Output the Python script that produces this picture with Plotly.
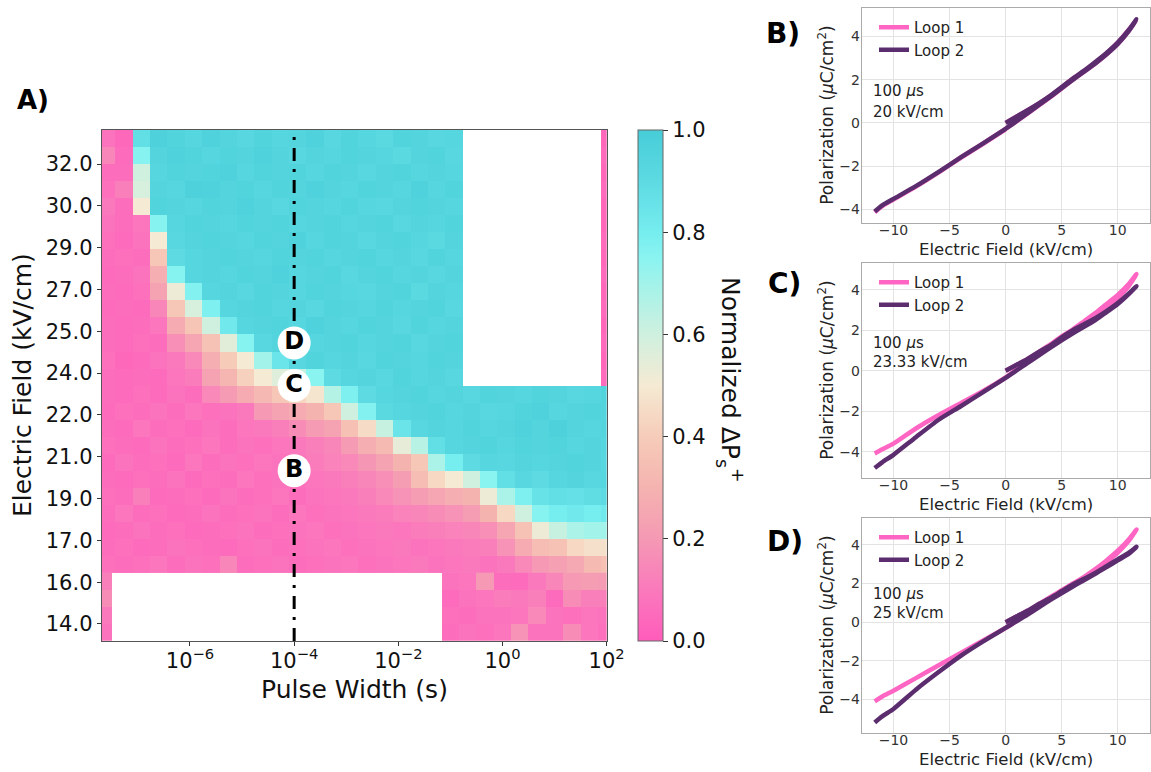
import plotly.graph_objects as go

N = None
W, H = 1151, 772

# ---------------- heatmap data (A) ----------------
pulse_log10_hi = [-7.6, -7.267, -6.933, -6.6, -6.267, -5.933, -5.6, -5.267, -4.933, -4.6,
                  -4.267, -3.933, -3.6, -3.267, -2.933, -2.6, -2.267, -1.933, -1.6, -1.267,
                  -0.933, -0.6, -0.267, 0.067, 0.4, 0.733, 1.067, 1.4, 1.733, 2.067]
pulse_log10_lo = [-7.67, -7.337, -7.003, -6.67, -6.337, -6.003, -5.67, -5.337, -5.003, -4.67,
                  -4.337, -4.003, -3.67, -3.337, -3.003, -2.67, -2.337, -2.003, -1.67, -1.337,
                  -1.003, -0.67, -0.337, -0.003, 0.33, 0.663, 0.997, 1.33, 1.663, 1.997]
field_rows = [33.0, 32.33, 31.67, 31.0, 30.33, 29.67, 29.0, 28.33, 27.67, 27.0,
              26.33, 25.67, 25.0, 24.33, 23.67, 23.0, 22.33, 21.67, 21.0, 20.33,
              19.67, 19.0, 18.33, 17.67, 17.0, 16.33, 15.67, 15.0, 14.33, 13.67]
field_ticks = [14.0, 15.636, 17.273, 18.909, 20.545, 22.182, 23.818, 25.455, 27.091, 28.727, 30.364, 32.0]
field_tick_labels = ["14.0", "16.0", "17.0", "19.0", "21.0", "22.0", "24.0", "25.0", "27.0", "29.0", "30.0", "32.0"]
pulse_ticks = [-6, -4, -2, 0, 2]
pulse_tick_labels = ["10<sup>\u22126</sup>", "10<sup>\u22124</sup>", "10<sup>\u22122</sup>", "10<sup>0</sup>", "10<sup>2</sup>"]

dps_upper = [
    [8, 4, 88, 97, 95, 93, 96, 94, 92, 95, 93, 94, 96, 92, 95, 93, 91, 95, 94, 92, 93, N, N, N, N, N, N, N, N, 4],
    [14, 5, 76, 94, 96, 95, 93, 95, 94, 96, 94, 92, 94, 93, 95, 94, 93, 91, 94, 95, 92, N, N, N, N, N, N, N, N, 5],
    [6, 6, 60, 93, 95, 94, 95, 96, 93, 95, 94, 95, 93, 95, 94, 92, 94, 95, 93, 94, 93, N, N, N, N, N, N, N, N, 4],
    [7, 12, 58, 94, 93, 97, 96, 94, 95, 93, 95, 94, 96, 94, 93, 95, 94, 93, 96, 93, 95, N, N, N, N, N, N, N, N, 5],
    [10, 6, 50, 95, 94, 93, 95, 94, 96, 94, 92, 95, 94, 93, 95, 93, 92, 94, 95, 94, 93, N, N, N, N, N, N, N, N, 4],
    [8, 6, 9, 76, 93, 95, 94, 93, 95, 94, 95, 93, 94, 95, 93, 94, 95, 92, 94, 93, 95, N, N, N, N, N, N, N, N, 4],
    [7, 5, 8, 50, 92, 94, 95, 94, 93, 95, 94, 96, 93, 95, 94, 92, 94, 95, 93, 91, 94, N, N, N, N, N, N, N, N, 5],
    [6, 7, 6, 38, 90, 93, 94, 95, 94, 93, 95, 94, 95, 93, 94, 95, 93, 94, 92, 95, 93, N, N, N, N, N, N, N, N, 4],
    [5, 6, 8, 28, 76, 93, 94, 93, 95, 94, 96, 93, 94, 95, 92, 94, 95, 93, 94, 92, 94, N, N, N, N, N, N, N, N, 5],
    [6, 5, 7, 24, 52, 77, 93, 94, 92, 95, 94, 93, 95, 94, 93, 92, 94, 95, 91, 94, 93, N, N, N, N, N, N, N, N, 4],
    [5, 6, 5, 14, 38, 58, 78, 93, 94, 95, 93, 94, 92, 95, 94, 93, 95, 93, 94, 95, 92, N, N, N, N, N, N, N, N, 5],
    [6, 5, 6, 9, 27, 37, 60, 82, 93, 94, 95, 93, 96, 94, 93, 95, 94, 92, 95, 93, 94, N, N, N, N, N, N, N, N, 4],
    [6, 5, 7, 6, 17, 25, 36, 55, 76, 92, 94, 95, 93, 94, 95, 93, 94, 95, 92, 94, 95, N, N, N, N, N, N, N, N, 5],
    [7, 4, 5, 8, 10, 15, 28, 40, 50, 70, 84, 92, 95, 93, 94, 92, 95, 94, 93, 95, 94, N, N, N, N, N, N, N, N, 4],
    [6, 5, 6, 5, 9, 11, 24, 31, 42, 50, 56, 63, 75, 90, 93, 94, 92, 95, 93, 94, 92, N, N, N, N, N, N, N, N, 5],
    [6, 5, 7, 5, 8, 6, 15, 21, 27, 32, 38, 43, 48, 66, 78, 90, 93, 94, 95, 93, 94, 92, 95, 94, 93, 95, 94, 92, 93, 95],
    [5, 7, 6, 8, 6, 9, 7, 8, 10, 20, 24, 27, 30, 38, 60, 77, 91, 93, 94, 95, 93, 94, 92, 93, 95, 96, 93, 94, 95, 94],
    [6, 5, 9, 6, 7, 5, 8, 6, 9, 10, 12, 16, 21, 24, 35, 45, 62, 85, 92, 94, 93, 95, 93, 94, 96, 94, 97, 94, 93, 94],
    [7, 6, 5, 8, 6, 7, 9, 6, 8, 7, 9, 10, 12, 14, 21, 28, 33, 54, 65, 88, 93, 94, 95, 93, 95, 94, 95, 93, 94, 93],
    [5, 8, 6, 7, 5, 9, 6, 8, 7, 9, 8, 10, 11, 13, 15, 19, 24, 30, 38, 68, 80, 90, 93, 92, 94, 93, 94, 95, 94, 92],
    [6, 5, 7, 6, 8, 5, 7, 6, 9, 7, 8, 7, 9, 10, 12, 14, 17, 22, 34, 44, 50, 60, 75, 88, 92, 90, 93, 94, 92, 93],
    [7, 6, 12, 5, 6, 7, 5, 8, 6, 7, 9, 6, 8, 9, 10, 12, 15, 18, 22, 25, 28, 30, 52, 68, 78, 86, 88, 87, 89, 90],
    [6, 9, 6, 7, 5, 6, 8, 6, 7, 8, 6, 9, 7, 8, 9, 10, 11, 13, 14, 16, 18, 22, 30, 44, 60, 76, 80, 82, 80, 82],
    [5, 6, 8, 6, 7, 5, 6, 7, 8, 6, 7, 8, 9, 7, 8, 9, 10, 9, 11, 12, 13, 14, 17, 25, 36, 52, 62, 68, 70, 70],
    [6, 7, 5, 6, 8, 7, 6, 5, 7, 8, 6, 7, 8, 9, 7, 8, 9, 10, 8, 9, 10, 11, 12, 18, 27, 34, 36, 44, 47, 47],
    [7, 6, 7, 9, 6, 8, 7, 14, 6, 7, 8, 6, 7, 8, 9, 7, 8, 9, 10, 8, 9, 10, 8, 10, 15, 20, 23, 26, 33, 35],
]
dps_lower = [
    [12, N, N, N, N, N, N, N, N, N, N, N, N, N, N, N, N, N, N, N, 8, 9, 20, 6, 5, 10, 14, 20, 22, 21],
    [16, N, N, N, N, N, N, N, N, N, N, N, N, N, N, N, N, N, N, N, 5, 8, 9, 11, 10, 12, 5, 16, 12, 12],
    [10, N, N, N, N, N, N, N, N, N, N, N, N, N, N, N, N, N, N, N, 7, 6, 8, 8, 9, 15, 8, 7, 9, 8],
    [8, N, N, N, N, N, N, N, N, N, N, N, N, N, N, N, N, N, N, N, 6, 8, 7, 9, 18, 8, 8, 16, 9, 7],
]
marker_fields = [20.0, 23.33, 25.0]
marker_labels = ["B", "C", "D"]
marker_pulse_log10 = -4

loop_E = [0, 1, 2, 3, 4, 5, 6, 7, 8, 9, 10, 11, 11.67,
          11, 10, 9, 8, 6, 4, 2, 0, -2, -4, -6, -8, -10, -11, -11.67,
          -11, -10, -8, -6, -4, -2, 0]
B_loop1 = [0, 0.3, 0.6, 0.9, 1.25, 1.65, 2.05, 2.4, 2.8, 3.22, 3.72, 4.33, 4.78,
           4.28, 3.66, 3.18, 2.75, 2.0, 1.2, 0.45, -0.28, -0.95, -1.6, -2.3, -2.95, -3.55, -3.85, -4.14,
           -3.85, -3.55, -2.95, -2.3, -1.62, -0.97, -0.3]
B_loop2 = [0, 0.3, 0.6, 0.92, 1.27, 1.66, 2.06, 2.42, 2.82, 3.24, 3.72, 4.32, 4.8,
           4.28, 3.66, 3.18, 2.76, 2.0, 1.22, 0.46, -0.27, -0.95, -1.6, -2.28, -2.93, -3.52, -3.82, -4.1,
           -3.82, -3.52, -2.93, -2.28, -1.6, -0.95, -0.28]
C_loop1 = [0, 0.3, 0.6, 0.95, 1.3, 1.7, 2.05, 2.45, 2.85, 3.3, 3.75, 4.3, 4.78,
           4.2, 3.6, 3.12, 2.7, 1.95, 1.2, 0.45, -0.32, -1.0, -1.6, -2.2, -2.85, -3.6, -3.88, -4.08,
           -3.88, -3.6, -2.85, -2.2, -1.62, -1.0, -0.35]
C_loop2 = [0, 0.3, 0.6, 0.95, 1.25, 1.65, 2.0, 2.3, 2.6, 2.95, 3.35, 3.82, 4.18,
           3.8, 3.3, 2.9, 2.5, 1.85, 1.15, 0.4, -0.35, -1.05, -1.75, -2.43, -3.28, -4.15, -4.52, -4.8,
           -4.52, -4.15, -3.28, -2.43, -1.75, -1.05, -0.35]
D_loop1 = [0, 0.3, 0.6, 0.95, 1.3, 1.65, 2.0, 2.35, 2.75, 3.2, 3.7, 4.3, 4.8,
           4.22, 3.6, 3.1, 2.65, 1.9, 1.2, 0.45, -0.3, -0.95, -1.6, -2.25, -2.9, -3.55, -3.85, -4.1,
           -3.85, -3.55, -2.9, -2.25, -1.6, -0.95, -0.3]
D_loop2 = [0, 0.3, 0.6, 0.95, 1.25, 1.6, 1.95, 2.25, 2.55, 2.9, 3.25, 3.6, 3.9,
           3.55, 3.2, 2.85, 2.5, 1.85, 1.15, 0.4, -0.3, -1.0, -1.75, -2.6, -3.5, -4.5, -4.88, -5.2,
           -4.88, -4.5, -3.5, -2.6, -1.75, -1.0, -0.3]
panel_fields = ["20 kV/cm", "23.33 kV/cm", "25 kV/cm"]
panel_pulse = "100 <i>\u03bc</i>s"
loop_names = ["Loop 1", "Loop 2"]

FONT = "DejaVu Sans"
colorscale = [
    [0.0, "#FF5CBB"], [0.1, "#FA79BC"], [0.2, "#F599B4"], [0.3, "#F5B3B0"],
    [0.4, "#F6CCB9"], [0.5, "#F5EAD3"], [0.6, "#CFF0DF"], [0.7, "#A2F3EA"],
    [0.75, "#8AF4F1"], [0.8, "#76EDEF"], [0.9, "#5DDAE2"], [1.0, "#47CDD8"],
]
PINK, PURPLE = "#FF66C4", "#5C2D6E"


def px_x(p):
    return p / W


def px_y(p):
    return 1 - p / H


fig = go.Figure()
fig.add_trace(go.Heatmap(
    x=pulse_log10_hi, y=field_rows[:len(dps_upper)],
    z=[[None if v is None else v / 100 for v in row] for row in dps_upper],
    colorscale=colorscale, zmin=0, zmax=1, xaxis="x", yaxis="y", hoverongaps=False,
    colorbar=dict(x=px_x(638.3), xanchor="left", y=px_y(385.5), yanchor="middle",
                  thickness=25, lenmode="pixels", len=511, outlinewidth=1, outlinecolor="#666",
                  xpad=0, ypad=0,
                  tickvals=[0, 0.2, 0.4, 0.6, 0.8, 1.0], ticktext=["0.0", "0.2", "0.4", "0.6", "0.8", "1.0"],
                  ticks="outside", ticklen=5, tickcolor="#333",
                  tickfont=dict(size=21, color="#111", family=FONT)),
))
fig.add_trace(go.Heatmap(
    x=pulse_log10_lo, y=field_rows[len(dps_upper):],
    z=[[None if v is None else v / 100 for v in row] for row in dps_lower],
    colorscale=colorscale, zmin=0, zmax=1, showscale=False, xaxis="x", yaxis="y", hoverongaps=False,
))
fig.add_trace(go.Scatter(
    x=[marker_pulse_log10, marker_pulse_log10], y=[13.333, 33.333], mode="lines",
    line=dict(color="black", width=3, dash="13px,8px,3px,8px"), xaxis="x", yaxis="y", showlegend=False,
))
fig.add_trace(go.Scatter(
    x=[marker_pulse_log10] * len(marker_fields), y=marker_fields,
    text=["<b>%s</b>" % t for t in marker_labels], mode="markers+text", textposition="middle center",
    marker=dict(size=33, color="white", line=dict(width=0)),
    textfont=dict(size=24, color="black", family=FONT), xaxis="x", yaxis="y", showlegend=False,
))

loops = [(B_loop1, B_loop2), (C_loop1, C_loop2), (D_loop1, D_loop2)]
for i, (l1, l2) in enumerate(loops):
    ax = str(i + 2)
    lg = "legend" if i == 0 else "legend%d" % (i + 1)
    for name, vals, col in [(loop_names[0], l1, PINK), (loop_names[1], l2, PURPLE)]:
        fig.add_trace(go.Scatter(
            x=loop_E, y=vals, mode="lines", name=name, legend=lg, legendgroup=name + ax,
            line=dict(color=col, width=4.5, shape="spline", smoothing=0.6), xaxis="x" + ax, yaxis="y" + ax,
        ))

layout = dict(
    template="none",
    width=W, height=H, autosize=False, margin=dict(l=0, r=0, t=0, b=0, pad=0, autoexpand=False),
    paper_bgcolor="white", plot_bgcolor="white",
    font=dict(family=FONT, color="#222"),
    xaxis=dict(domain=[px_x(101.7), px_x(606.7)], range=[-7.695, 2.0005], anchor="y", automargin=False,
               tickvals=pulse_ticks, ticktext=pulse_tick_labels, ticks="outside", ticklen=4,
               ticklabelstandoff=-3,
               tickcolor="#333", tickfont=dict(size=21, color="#111"), showgrid=False, zeroline=False,
               showline=True, mirror=True, linecolor="#555", linewidth=1),
    yaxis=dict(domain=[px_y(641), px_y(130)], range=[13.333, 33.333], anchor="x", automargin=False,
               tickvals=field_ticks, ticktext=field_tick_labels, ticks="outside", ticklen=4,
               tickcolor="#333", tickfont=dict(size=21, color="#111"), showgrid=False, zeroline=False,
               showline=True, mirror=True, linecolor="#555", linewidth=1),
)

panel_tops = [8.3, 263.3, 518.3]
panel_bottoms = [223.3, 478.3, 733.3]
panel_yranges = [[-4.65, 5.31], [-5.31, 5.31], [-5.76, 5.38]]
legend_tops = [11, 266, 521]
for i in range(3):
    ax = str(i + 2)
    common = dict(showgrid=True, gridcolor="#E3E3E3", gridwidth=1, zeroline=False, showline=True,
                  mirror=True, linecolor="#AAAAAA", linewidth=1, ticks="", automargin=False,
                  tickfont=dict(size=14, color="#333"))
    layout["xaxis" + ax] = dict(domain=[px_x(861.7), px_x(1149.5)], range=[-12.83, 12.83],
                                anchor="y" + ax, dtick=5, ticklabelstandoff=-6, **common)
    layout["yaxis" + ax] = dict(domain=[px_y(panel_bottoms[i]), px_y(panel_tops[i])],
                                range=panel_yranges[i], anchor="x" + ax, dtick=2, ticklabelstandoff=-2,
                                **common)
    lg = "legend" if i == 0 else "legend%d" % (i + 1)
    layout[lg] = dict(x=px_x(874), y=px_y(legend_tops[i]), xanchor="left", yanchor="top",
                      bgcolor="rgba(0,0,0,0)", font=dict(size=15, color="#222"), tracegroupgap=0,
                      itemwidth=30, borderwidth=0)

annotations = [
    dict(text="<b>A)</b>", x=px_x(33), y=px_y(100), font=dict(size=26, color="black")),
    dict(text="Electric Field (kV/cm)", x=px_x(22), y=px_y(385), textangle=-90, font=dict(size=25, color="#111")),
    dict(text="Pulse Width (s)", x=px_x(354), y=px_y(689), font=dict(size=25, color="#111")),
    dict(text="Normalized \u0394P<sub>s</sub><sup>+</sup>", x=px_x(730), y=px_y(380), textangle=90,
         font=dict(size=25, color="#111")),
]
label_centres = [(783, 33), (784, 283), (785, 541)]
pulse_y = [91, 343, 594]
field_y = [112, 362, 613]
for i in range(3):
    top, bot = panel_tops[i], panel_bottoms[i]
    annotations += [
        dict(text="<b>%s)</b>" % "BCD"[i], x=px_x(label_centres[i][0]), y=px_y(label_centres[i][1]),
             font=dict(size=28, color="black")),
        dict(text="Electric Field (kV/cm)", x=px_x(1005.6), y=px_y(bot + 26), font=dict(size=16.5, color="#222")),
        dict(text="Polarization (<i>\u03bc</i>C/cm<sup>2</sup>)", x=px_x(826), y=px_y((top + bot) / 2),
             textangle=-90, font=dict(size=17, color="#222")),
        dict(text=panel_pulse, x=px_x(871), y=px_y(pulse_y[i]), xanchor="left", font=dict(size=15, color="#222")),
        dict(text=panel_fields[i], x=px_x(871), y=px_y(field_y[i]), xanchor="left", font=dict(size=15, color="#222")),
    ]
for a in annotations:
    a.update(xref="paper", yref="paper", showarrow=False)
    a.setdefault("xanchor", "center")
    a.setdefault("yanchor", "middle")
layout["annotations"] = annotations

fig.update_layout(**layout)

post = ("document.documentElement.style.margin='0';document.documentElement.style.overflow='hidden';"
        "document.body.style.margin='0';document.body.style.padding='0';document.body.style.overflow='hidden';"
        "var gd=document.getElementById('{plot_id}');"
        "Plotly.relayout(gd,{width:1151,height:772});")
fig.write_html("out.html", config={"responsive": False, "displayModeBar": False}, post_script=post)
